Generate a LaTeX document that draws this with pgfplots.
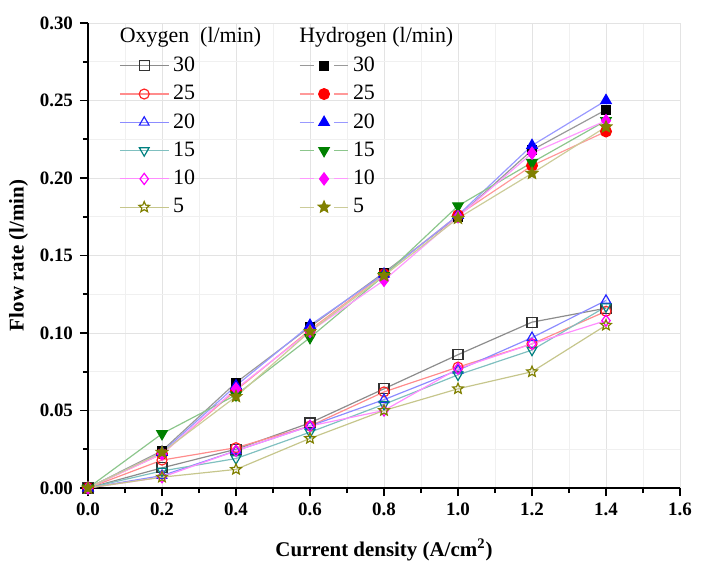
\documentclass[border=0pt]{standalone}
\usepackage{fontspec}
\setmainfont{Liberation Serif}
\usepackage{pgfplots}
\usepackage{pgfplotstable}
\pgfplotsset{compat=1.18}

% five-pointed stars (open and filled)
\pgfdeclareplotmark{ostar}{%
  \pgfpathmoveto{\pgfpointpolar{90}{\pgfplotmarksize}}%
  \pgfpathlineto{\pgfpointpolar{126}{0.45\pgfplotmarksize}}%
  \pgfpathlineto{\pgfpointpolar{162}{\pgfplotmarksize}}%
  \pgfpathlineto{\pgfpointpolar{198}{0.45\pgfplotmarksize}}%
  \pgfpathlineto{\pgfpointpolar{234}{\pgfplotmarksize}}%
  \pgfpathlineto{\pgfpointpolar{270}{0.45\pgfplotmarksize}}%
  \pgfpathlineto{\pgfpointpolar{306}{\pgfplotmarksize}}%
  \pgfpathlineto{\pgfpointpolar{342}{0.45\pgfplotmarksize}}%
  \pgfpathlineto{\pgfpointpolar{18}{\pgfplotmarksize}}%
  \pgfpathlineto{\pgfpointpolar{54}{0.45\pgfplotmarksize}}%
  \pgfpathclose\pgfusepathqstroke}
\pgfdeclareplotmark{fstar}{%
  \pgfpathmoveto{\pgfpointpolar{90}{\pgfplotmarksize}}%
  \pgfpathlineto{\pgfpointpolar{126}{0.45\pgfplotmarksize}}%
  \pgfpathlineto{\pgfpointpolar{162}{\pgfplotmarksize}}%
  \pgfpathlineto{\pgfpointpolar{198}{0.45\pgfplotmarksize}}%
  \pgfpathlineto{\pgfpointpolar{234}{\pgfplotmarksize}}%
  \pgfpathlineto{\pgfpointpolar{270}{0.45\pgfplotmarksize}}%
  \pgfpathlineto{\pgfpointpolar{306}{\pgfplotmarksize}}%
  \pgfpathlineto{\pgfpointpolar{342}{0.45\pgfplotmarksize}}%
  \pgfpathlineto{\pgfpointpolar{18}{\pgfplotmarksize}}%
  \pgfpathlineto{\pgfpointpolar{54}{0.45\pgfplotmarksize}}%
  \pgfpathclose\pgfusepathqfillstroke}

\definecolor{ogreen}{RGB}{0,128,0}
\definecolor{ocyan}{RGB}{0,128,128}
\definecolor{oolive}{RGB}{128,128,0}
\definecolor{omag}{RGB}{255,0,255}

% hydrogen legend entries: line broken around the mark
\pgfplotsset{hleg/.style={legend image code/.code={%
  \draw[mark=none] (0cm,0cm)--(0.25cm,0cm) (0.61cm,0cm)--(0.86cm,0cm);
  \draw[only marks] plot coordinates {(0.43cm,0cm)};}}}

% oxygen flow rates (l/min) vs current density
\pgfplotstableread{
x    a30   a25   a20   a15   a10   a5
0.0  0.000 0.000 0.000 0.000 0.000 0.000
0.2  0.013 0.018 0.008 0.011 0.007 0.007
0.4  0.025 0.026 0.024 0.019 0.024 0.012
0.6  0.042 0.040 0.040 0.036 0.040 0.032
0.8  0.064 0.062 0.057 0.054 0.050 0.050
1.0  0.086 0.078 0.076 0.073 0.077 0.064
1.2  0.107 0.093 0.097 0.089 0.093 0.075
1.4  0.116 0.114 0.121 0.117 0.108 0.105
}\oxy
% hydrogen flow rates
\pgfplotstableread{
x    h30   h25   h20   h15   h10   h5
0.0  0.000 0.000 0.000 0.000 0.000 0.000
0.2  0.024 0.022 0.023 0.035 0.022 0.023
0.4  0.068 0.063 0.066 0.060 0.064 0.059
0.6  0.104 0.102 0.105 0.097 0.101 0.101
0.8  0.139 0.138 0.138 0.137 0.134 0.137
1.0  0.175 0.176 0.176 0.182 0.175 0.174
1.2  0.218 0.208 0.221 0.210 0.216 0.203
1.4  0.244 0.230 0.250 0.237 0.237 0.233
}\hyd

\begin{document}
\begin{tikzpicture}
\begin{axis}[
  scale only axis,
  width=296bp, height=232.5bp,
  xmin=0, xmax=1.6, ymin=0, ymax=0.30,
  xtick={0,0.2,...,1.6}, ytick={0,0.05,...,0.30},
  minor x tick num=1, minor y tick num=1,
  axis x line*=bottom, axis y line*=left,
  axis line style={line width=1pt},
  tick align=outside,
  major tick length=4bp, minor tick length=2.5bp,
  tick style={black, line width=0.8pt},
  grid=both,
  major grid style={gray!22, line width=0.5pt},
  minor grid style={gray!12, line width=0.4pt},
  /pgf/number format/assume math mode=true,
  tick label style={font=\bfseries\fontsize{9.5}{10}\selectfont},
  xticklabel style={/pgf/number format/.cd, fixed, fixed zerofill, precision=1},
  yticklabel style={/pgf/number format/.cd, fixed, fixed zerofill, precision=2},
  xlabel={Current density (A/cm\textsuperscript{2})},
  ylabel={Flow rate (l/min)},
  label style={font=\bfseries\fontsize{10.5}{12}\selectfont},
  xlabel style={yshift=-4.5bp},
  ylabel style={yshift=-1bp},
  every axis plot/.append style={line width=0.6pt},
  mark size=2.5pt,
  legend columns=6, transpose legend,
  legend cell align=left,
  legend style={draw=none, fill=none, at={(rel axis cs:0.042,0.945)}, anchor=north west,
    font=\fontsize{11}{13}\selectfont, row sep=1.4bp,
    /tikz/column 2/.style={column sep=50bp}},
  legend image code/.code={\draw[mark repeat=2,mark phase=2]
    plot coordinates {(0cm,0cm)(0.43cm,0cm)(0.86cm,0cm)};},
]
% oxygen (open marks)
\addplot[black!45, mark=square, mark options={black!80, solid}] table[y=a30] {\oxy};
\addplot[red!45, mark=o, mark options={red!85, solid}] table[y=a25] {\oxy};
\addplot[blue!45, mark=triangle, mark size=2.8pt, mark options={blue!85, solid}] table[y=a20] {\oxy};
\addplot[ocyan!50, mark=triangle, mark size=2.8pt, mark options={ocyan, solid, rotate=180}] table[y=a15] {\oxy};
\addplot[omag!45, mark=diamond, mark size=2.8pt, mark options={omag, solid}] table[y=a10] {\oxy};
\addplot[oolive!45, mark=ostar, mark size=2.8pt, mark options={oolive, solid}] table[y=a5] {\oxy};
% hydrogen (filled marks)
\addplot[hleg, black!40, mark=square*, mark size=2.2pt, mark options={black, fill=black, solid}] table[y=h30] {\hyd};
\addplot[hleg, red!40, mark=*, mark size=2.7pt, mark options={red, fill=red, solid}] table[y=h25] {\hyd};
\addplot[hleg, blue!40, mark=triangle*, mark size=3pt, mark options={blue, fill=blue, solid}] table[y=h20] {\hyd};
\addplot[hleg, ogreen!45, mark=triangle*, mark size=3pt, mark options={ogreen, fill=ogreen, solid, rotate=180}] table[y=h15] {\hyd};
\addplot[hleg, omag!40, mark=diamond*, mark size=3pt, mark options={omag, fill=omag, solid}] table[y=h10] {\hyd};
\addplot[hleg, oolive!40, mark=fstar, mark size=3pt, mark options={oolive, fill=oolive, solid}] table[y=h5] {\hyd};
\legend{30,25,20,15,10,5,30,25,20,15,10,5}
\node[anchor=west, font=\fontsize{11}{13}\selectfont] at (rel axis cs:0.042,0.970) {Oxygen\ \ (l/min)};
\node[anchor=west, font=\fontsize{11}{13}\selectfont] at (rel axis cs:0.345,0.970) {Hydrogen (l/min)};
\end{axis}
\path (current axis.south west) ++(-44bp,-37.5bp) coordinate (bbA);
\path (current axis.north east) ++(12.5bp,11.5bp) coordinate (bbB);
\pgfresetboundingbox
\useasboundingbox (bbA) rectangle (bbB);
\end{tikzpicture}
\end{document}
